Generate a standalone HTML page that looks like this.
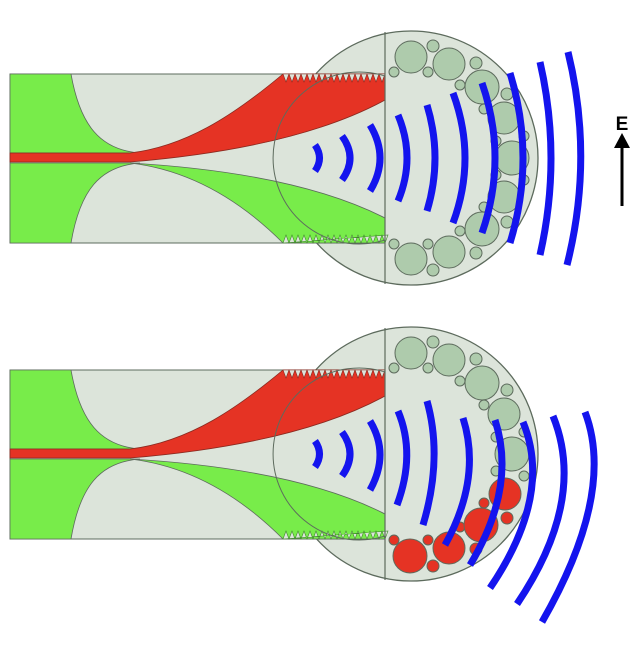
<!DOCTYPE html>
<html><head><meta charset="utf-8"><style>html,body{margin:0;padding:0;background:#fff}svg{display:block}</style></head>
<body>
<svg width="637" height="660" viewBox="0 0 637 660" xmlns="http://www.w3.org/2000/svg">
<defs>
<g id="fiber">
  <circle cx="411" cy="158" r="127" fill="#dce4da" stroke="#5d6b5d" stroke-width="1.3"/>
  <rect x="10" y="74" width="375" height="169" fill="#dce4da" stroke="#5d6b5d" stroke-width="1"/>
  <path d="M10,74 L71,74 C80,125 100,150 140,153 L10,153 Z" fill="#78ec4a" stroke="#5d6b5d" stroke-width="0.8"/>
  <path d="M10,163 L140,163 C100,166 80,190 71,243 L10,243 Z" fill="#78ec4a" stroke="#5d6b5d" stroke-width="0.8"/>
  <path d="M130,163 C250,170 330,190 385,218 L385,243 L283,243 C240,200 190,170 130,163 Z" fill="#78ec4a" stroke="#5d6b5d" stroke-width="0.8"/>
  <path d="M10,153 L130,153 C190,146 240,110 283,74 L385,74 L385,100 C330,130 250,152 130,162 L10,162 Z" fill="#e53324" stroke="#8a2a20" stroke-width="0.8"/>
  <path d="M283,74 l3,8 l3,-8 l3,8 l3,-8 l3,8 l3,-8 l3,8 l3,-8 l3,8 l3,-8 l3,8 l3,-8 l3,8 l3,-8 l3,8 l3,-8 l3,8 l3,-8 l3,8 l3,-8 l3,8 l3,-8 l3,8 l3,-8 l3,8 l3,-8 l3,8 l3,-8 l3,8 l3,-8 l3,8 l3,-8 l3,8 l3,-8 Z" fill="#dce4da" stroke="#8a2a20" stroke-width="0.6"/>
  <path d="M283,243 l3,-8 l3,8 l3,-8 l3,8 l3,-8 l3,8 l3,-8 l3,8 l3,-8 l3,8 l3,-8 l3,8 l3,-8 l3,8 l3,-8 l3,8 l3,-8 l3,8 l3,-8 l3,8 l3,-8 l3,8 l3,-8 l3,8 l3,-8 l3,8 l3,-8 l3,8 l3,-8 l3,8 l3,-8 l3,8 l3,-8 l3,8 l3,-8 Z" fill="#dce4da" stroke="#3f8a2a" stroke-width="0.6"/>
  <path d="M385,76 A86,86 0 1 0 385,240" fill="none" stroke="#5d6b5d" stroke-width="1"/>
  <line x1="385" y1="32" x2="385" y2="284" stroke="#5d6b5d" stroke-width="1.2"/>
</g>
<g id="upper" stroke="#5d6b5d" stroke-width="1" fill="#aecbac">
  <circle cx="411" cy="57" r="16"/><circle cx="449" cy="64" r="16"/><circle cx="482" cy="87" r="17"/><circle cx="504" cy="118" r="16"/><circle cx="512" cy="158" r="17"/>
  <circle cx="433" cy="46" r="6"/><circle cx="476" cy="63" r="6"/><circle cx="507" cy="94" r="6"/><circle cx="524" cy="136" r="5"/><circle cx="524" cy="180" r="5"/>
  <circle cx="394" cy="72" r="5"/><circle cx="428" cy="72" r="5"/><circle cx="460" cy="85" r="5"/><circle cx="484" cy="109" r="5"/><circle cx="496" cy="141" r="5"/><circle cx="496" cy="175" r="5"/>
</g>
</defs>

<!-- TOP PANEL -->
<use href="#fiber"/>
<use href="#upper"/>
<g stroke="#5d6b5d" stroke-width="1" fill="#aecbac">
  <circle cx="504" cy="197" r="16"/><circle cx="482" cy="229" r="17"/><circle cx="449" cy="252" r="16"/><circle cx="411" cy="259" r="16"/>
  <circle cx="507" cy="222" r="6"/><circle cx="476" cy="253" r="6"/><circle cx="433" cy="270" r="6"/>
  <circle cx="484" cy="207" r="5"/><circle cx="460" cy="231" r="5"/><circle cx="428" cy="244" r="5"/><circle cx="394" cy="244" r="5"/>
</g>
<g fill="none" stroke="#1414ee" stroke-width="7">
  <path d="M315,145 Q324,158 315,171"/>
  <path d="M342,136 Q358,158 342,180"/>
  <path d="M370,125 Q390,158 370,191"/>
  <path d="M398,115 Q416,158 398,201"/>
  <path d="M427,105 Q443,158 427,211"/>
  <path d="M453,93 Q477,158 453,223"/>
  <path d="M482,83 Q508,158 482,233"/>
  <path d="M510,73 Q536,158 510,243"/>
  <path d="M540,62 Q562,158 540,255"/>
  <path d="M568,52 Q594,158 567,265"/>
</g>

<!-- BOTTOM PANEL -->
<use href="#fiber" transform="translate(0,296)"/>
<use href="#upper" transform="translate(0,296)"/>
<g stroke="#5d6b5d" stroke-width="1">
  <circle cx="507" cy="518" r="6" fill="#e53324"/><circle cx="476" cy="549" r="6" fill="#e53324"/><circle cx="433" cy="566" r="6" fill="#e53324"/>
  <circle cx="484" cy="503" r="5" fill="#e53324"/><circle cx="460" cy="527" r="5" fill="#e53324"/><circle cx="428" cy="540" r="5" fill="#e53324"/><circle cx="394" cy="540" r="5" fill="#e53324"/>
  <circle cx="505" cy="494" r="16" fill="#e53324"/><circle cx="481" cy="525" r="17" fill="#e53324"/><circle cx="449" cy="548" r="16" fill="#e53324"/><circle cx="410" cy="556" r="17" fill="#e53324"/>
</g>
<g fill="none" stroke="#1414ee" stroke-width="7">
  <path d="M315,441 Q324,454 315,467"/>
  <path d="M342,432 Q358,454 342,476"/>
  <path d="M370,421 Q390,454 370,490"/>
  <path d="M398,411 Q416,454 397,505"/>
  <path d="M427,401 Q443,458 423,525"/>
  <path d="M463,418 Q482,478 445,545"/>
  <path d="M495,420 Q517,487 470,565"/>
  <path d="M523,422 Q553,495 490,588"/>
  <path d="M553,416 Q587,500 517,604"/>
  <path d="M585,412 Q616,493 542,622"/>
</g>

<!-- E arrow -->
<line x1="622" y1="206" x2="622" y2="146" stroke="#000" stroke-width="3"/>
<path d="M614,148 L622,133 L630,148 Z" fill="#000"/>
<text x="622" y="130" font-family="Liberation Sans, sans-serif" font-weight="bold" font-size="19" text-anchor="middle" fill="#000">E</text>
</svg>
</body></html>
